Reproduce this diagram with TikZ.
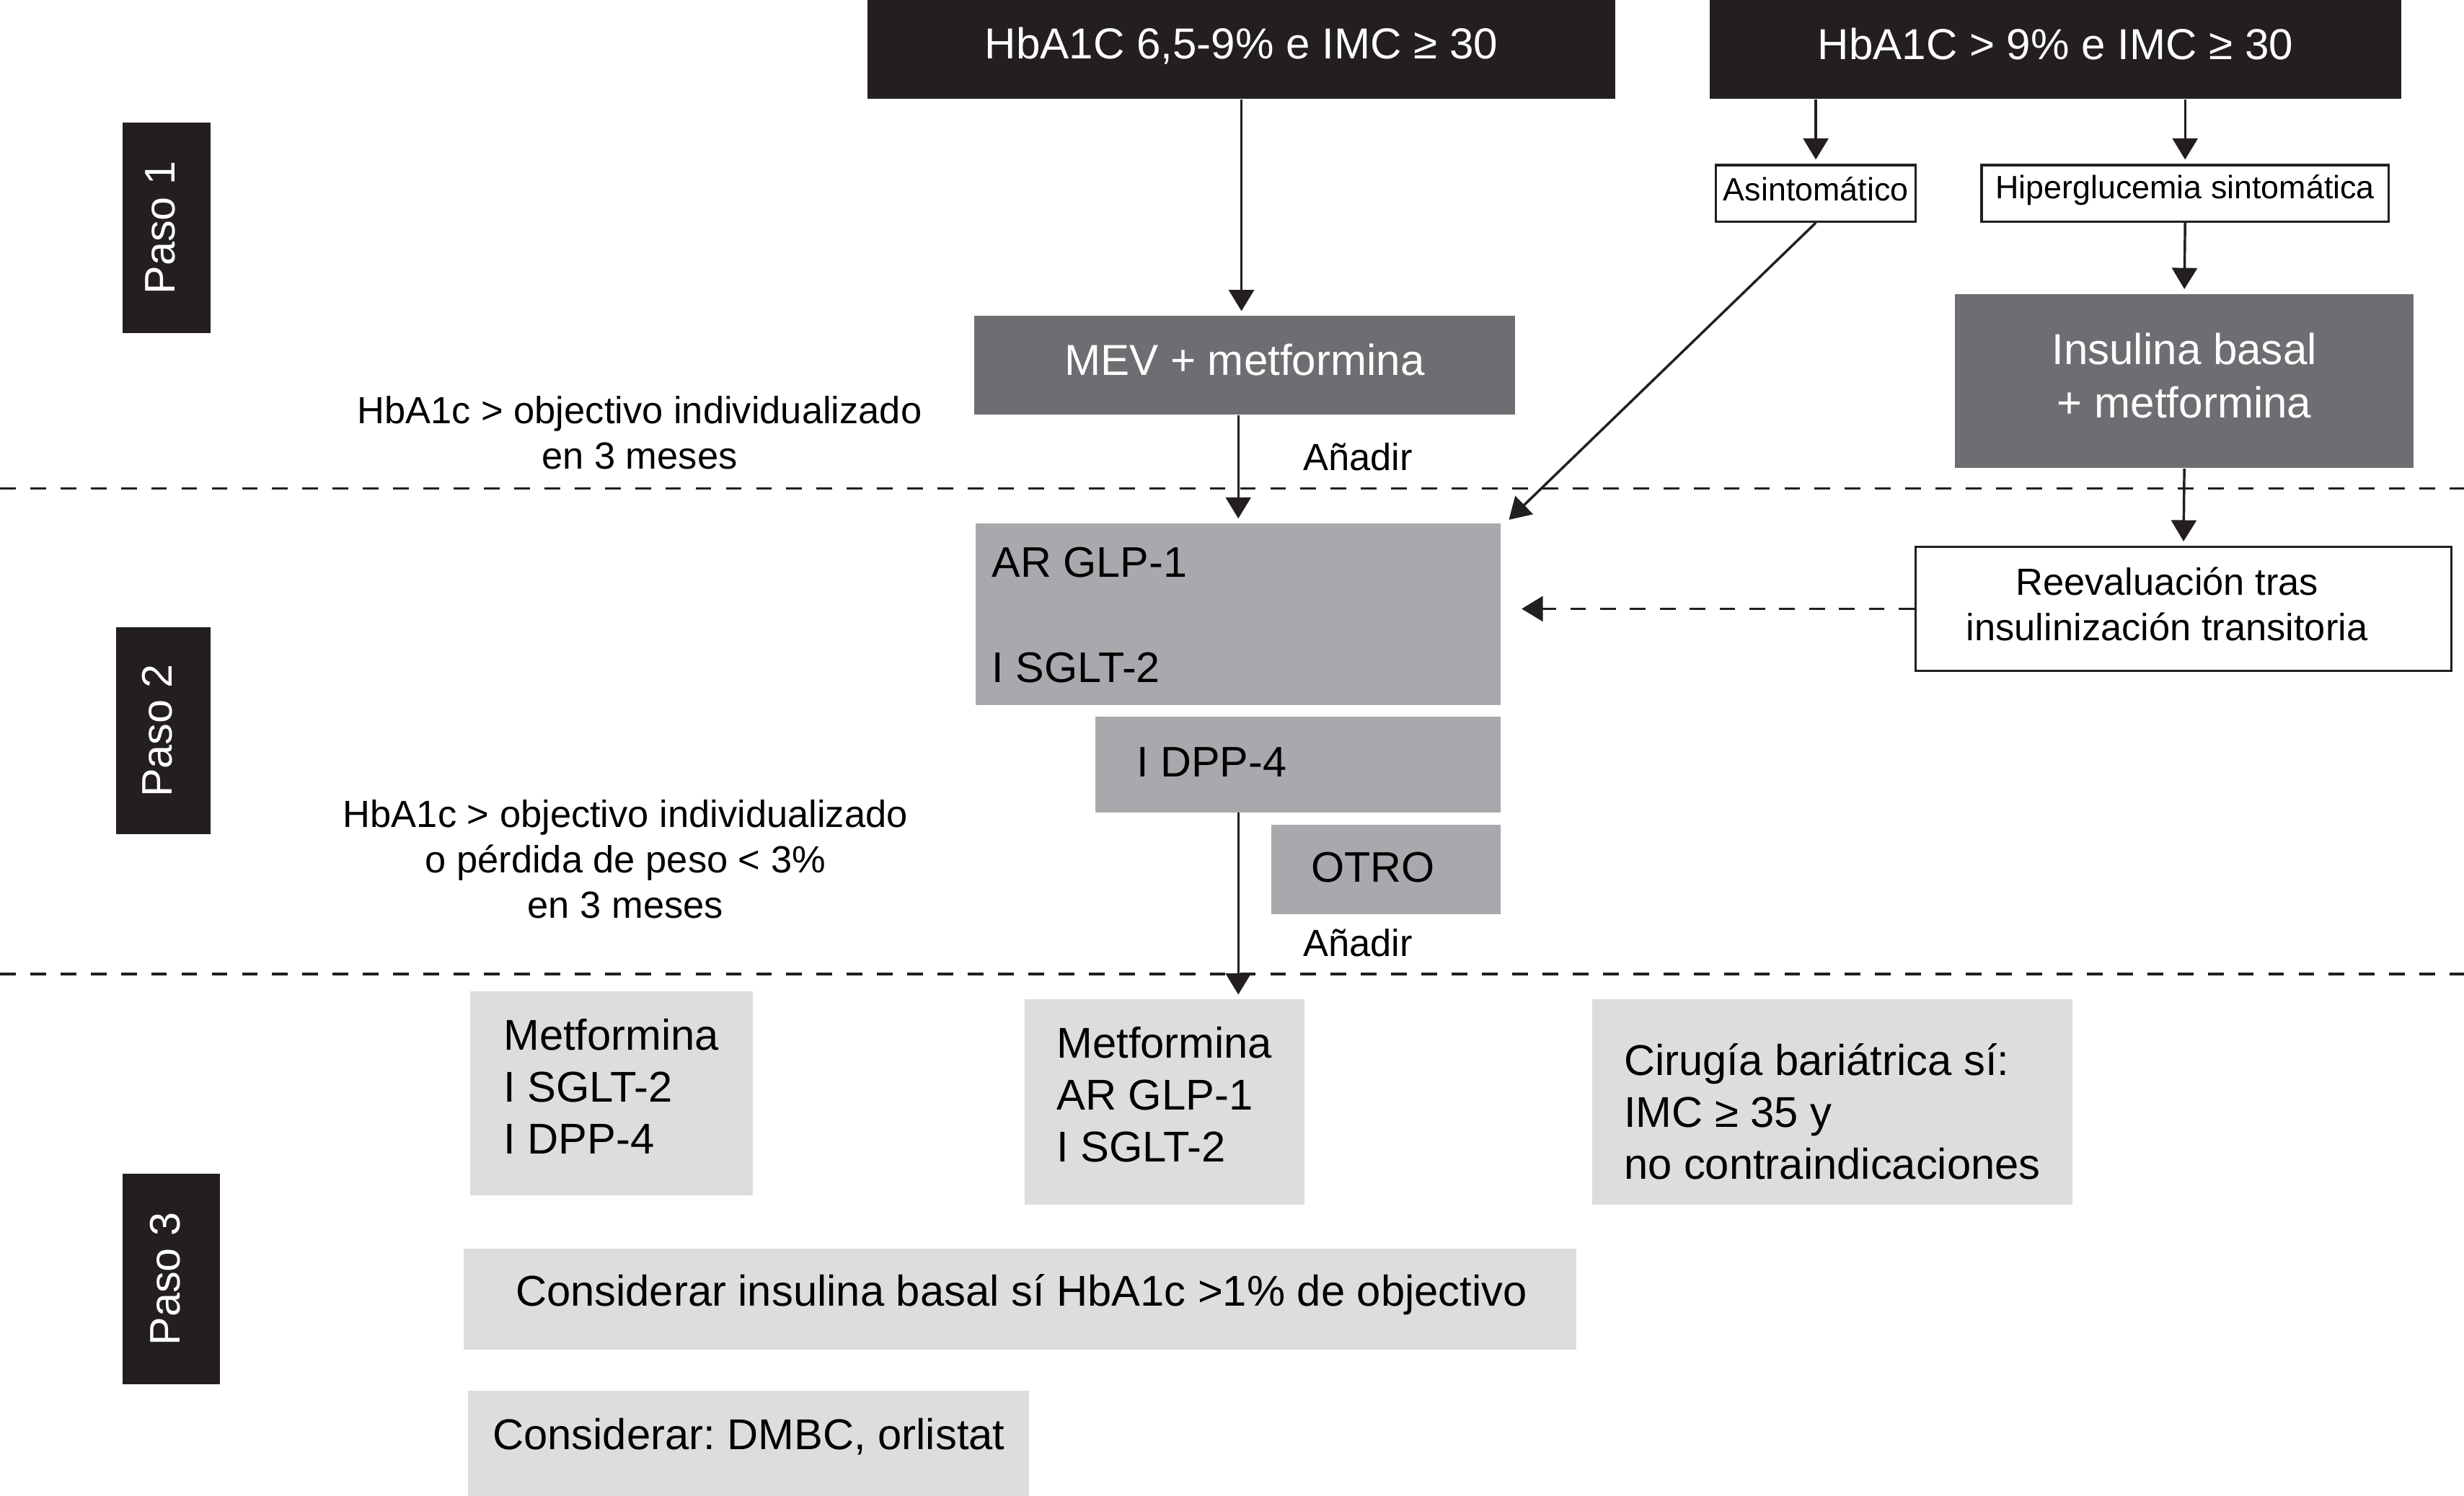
\documentclass[tikz,border=0pt]{standalone}
\usepackage{fontspec}
\setmainfont{Liberation Sans}
\usetikzlibrary{arrows.meta,calc}
\definecolor{bxblack}{HTML}{231F20}
\definecolor{bxdark}{HTML}{6D6E71}
\definecolor{bxmed}{HTML}{A7A9AC}
\definecolor{bxlight}{HTML}{DCDDDF}
\frenchspacing
\tikzset{
  bigfont/.style={font=\fontsize{15.7}{19.2}\selectfont},
  midfont/.style={font=\fontsize{13.7}{16.4}\selectfont},
  smallfont/.style={font=\fontsize{11.7}{14}\selectfont},
  blackbox/.style={fill=bxblack, inner sep=0pt},
  darkbox/.style={fill=bxdark, inner sep=0pt},
  medbox/.style={fill=bxmed, inner sep=0pt},
  lightbox/.style={fill=bxlight, inner sep=0pt},
  whitebox/.style={draw=bxblack, fill=white, line width=0.9pt, inner sep=0pt},
  pasobox/.style={fill=bxblack, inner sep=0pt},
  pasotext/.style={text=white, inner sep=0pt, rotate=90, font=\fontsize{15.5}{18}\selectfont},
  whitetext/.style={text=white, inner sep=0pt, bigfont, align=center},
  plaintext/.style={inner sep=0pt, midfont, align=center},
  steptext/.style={inner sep=0pt, align=left, font=\fontsize{15.6}{18.8}\selectfont},
  boxtext/.style={inner sep=0pt, font=\fontsize{15.5}{18.6}\selectfont, anchor=west},
  arr/.style={draw=bxblack, line width=0.9pt, shorten >=1.5pt, -{Triangle[length=0.27cm,width=0.32cm]}},
  darr/.style={draw=bxblack, line width=0.85pt, dash pattern=on 0.2cm off 0.18cm, -{Triangle[length=0.27cm,width=0.32cm]}},
  sepline/.style={draw=bxblack, line width=0.85pt, dash pattern=on 0.2cm off 0.185cm}
}
\begin{document}
\begin{tikzpicture}[x=0.02cm,y=-0.02cm]
\useasboundingbox (0,0) rectangle (1568,952);

% separators
\coordinate (s1a) at (0,311);
\coordinate (s1b) at (1568,311);
\coordinate (s2a) at (0,620);
\coordinate (s2b) at (1568,620);
\draw[sepline] (s1a) -- (s1b);
\draw[sepline] (s2a) -- (s2b);

% Paso labels
\node[pasobox, minimum width=1.12cm, minimum height=2.68cm] (paso1) at (106,145) {};
\node[pasotext] (paso1t) at ($(paso1.center)+(-4,0)$) {Paso 1};
\node[pasobox, minimum width=1.2cm, minimum height=2.64cm] (paso2) at (104,465) {};
\node[pasotext] (paso2t) at ($(paso2.center)+(-4,0)$) {Paso 2};
\node[pasobox, minimum width=1.24cm, minimum height=2.68cm] (paso3) at (109,814) {};
\node[pasotext] (paso3t) at ($(paso3.center)+(-4,0)$) {Paso 3};

% top boxes
\node[blackbox, minimum width=9.52cm, minimum height=1.26cm] (top1) at (790,31.5) {};
\node[whitetext] (top1t) at (790,29) {HbA1C 6,5-9\% e IMC ≥ 30};
\node[blackbox, minimum width=8.8cm, minimum height=1.26cm] (top2) at (1308,31.5) {};
\node[whitetext] (top2t) at (1308,28) {HbA1C > 9\% e IMC ≥ 30};

% step 1
\node[darkbox, minimum width=6.88cm, minimum height=1.26cm] (mev) at (792,232.5) {};
\node[whitetext] (mevt) at (792,229) {MEV + metformina};
\node[whitebox, minimum width=2.54cm, minimum height=0.72cm] (asin) at (1155.5,123) {};
\node[inner sep=0pt, smallfont] (asint) at (1155.5,120.5) {Asintomático};
\node[whitebox, minimum width=5.18cm, minimum height=0.72cm] (hiper) at (1390.5,123) {};
\node[inner sep=0pt, smallfont] (hipert) at (1390.5,121) {Hiperglucemia sintomática};
\node[darkbox, minimum width=5.84cm, minimum height=2.22cm] (insul) at (1390,242.5) {};
\node[whitetext, font=\fontsize{15.7}{19.3}\selectfont] (insult) at (1390,239) {Insulina basal\\+ metformina};

\node[plaintext] (t1) at (407,275.5) {HbA1c > objectivo individualizado\\en 3 meses};
\node[plaintext] (add1) at (864,291) {Añadir};

% step 2
\node[medbox, minimum width=6.68cm, minimum height=2.32cm] (glp) at (788,391) {};
\node[boxtext] (glpa) at (631,358) {AR GLP-1};
\node[boxtext] (glpb) at (631,425) {I SGLT-2};
\node[whitebox, minimum width=6.82cm, minimum height=1.58cm] (reev) at (1389.5,387.5) {};
\node[plaintext] (reevt) at (1379,384.5) {Reevaluación tras\\insulinización transitoria};
\node[medbox, minimum width=5.16cm, minimum height=1.22cm] (dpp) at (826,486.5) {};
\node[boxtext] (dppt) at (723,485) {I DPP-4};
\node[medbox, minimum width=2.92cm, minimum height=1.14cm] (otro) at (882,553.5) {};
\node[boxtext] (otrot) at (834,552) {OTRO};

\node[plaintext] (t2) at (398,547) {HbA1c > objectivo individualizado\\o pérdida de peso < 3\%\\en 3 meses};
\node[plaintext] (add2) at (864,600) {Añadir};

% step 3
\node[lightbox, minimum width=3.6cm, minimum height=2.6cm] (boxA) at (389,696) {};
\node[steptext] (boxAt) at (389,691.5) {Metformina\\I SGLT-2\\I DPP-4};
\node[lightbox, minimum width=3.56cm, minimum height=2.62cm] (boxB) at (741,701.5) {};
\node[steptext] (boxBt) at (741,696.5) {Metformina\\AR GLP-1\\I SGLT-2};
\node[lightbox, minimum width=6.12cm, minimum height=2.62cm] (boxC) at (1166,701.5) {};
\node[steptext] (boxCt) at (1166,707.5) {Cirugía bariátrica sí:\\IMC ≥ 35 y\\no contraindicaciones};
\node[lightbox, minimum width=14.16cm, minimum height=1.28cm] (boxD) at (649,827) {};
\node[steptext] (boxDt) at (650,824) {Considerar insulina basal sí HbA1c >1\% de objectivo};
\node[lightbox, minimum width=7.14cm, minimum height=1.34cm] (boxE) at (476.5,918.5) {};
\node[steptext] (boxEt) at (476.5,914.5) {Considerar: DMBC, orlistat};

% connectors
\draw[arr] (top1.south) -- (top1.south|-mev.north);
\draw[arr] (asin.north|-top2.south) -- (asin.north);
\draw[arr] (hiper.north|-top2.south) -- (hiper.north);
\draw[arr] (hiper.south) -- (insul.north);
\draw[arr] (insul.south) -- (reev.north);
\draw[arr] (glp.north|-mev.south) -- (glp.north);
\draw[arr] (asin.south) -- ($(glp.north east)+(3,0)$);
\draw[darr] (reev.west) -- ($(glp.east|-reev.west)+(13,0)$);
\draw[arr] (glp.south|-dpp.south) -- (glp.south|-boxB.north);
\end{tikzpicture}
\end{document}
